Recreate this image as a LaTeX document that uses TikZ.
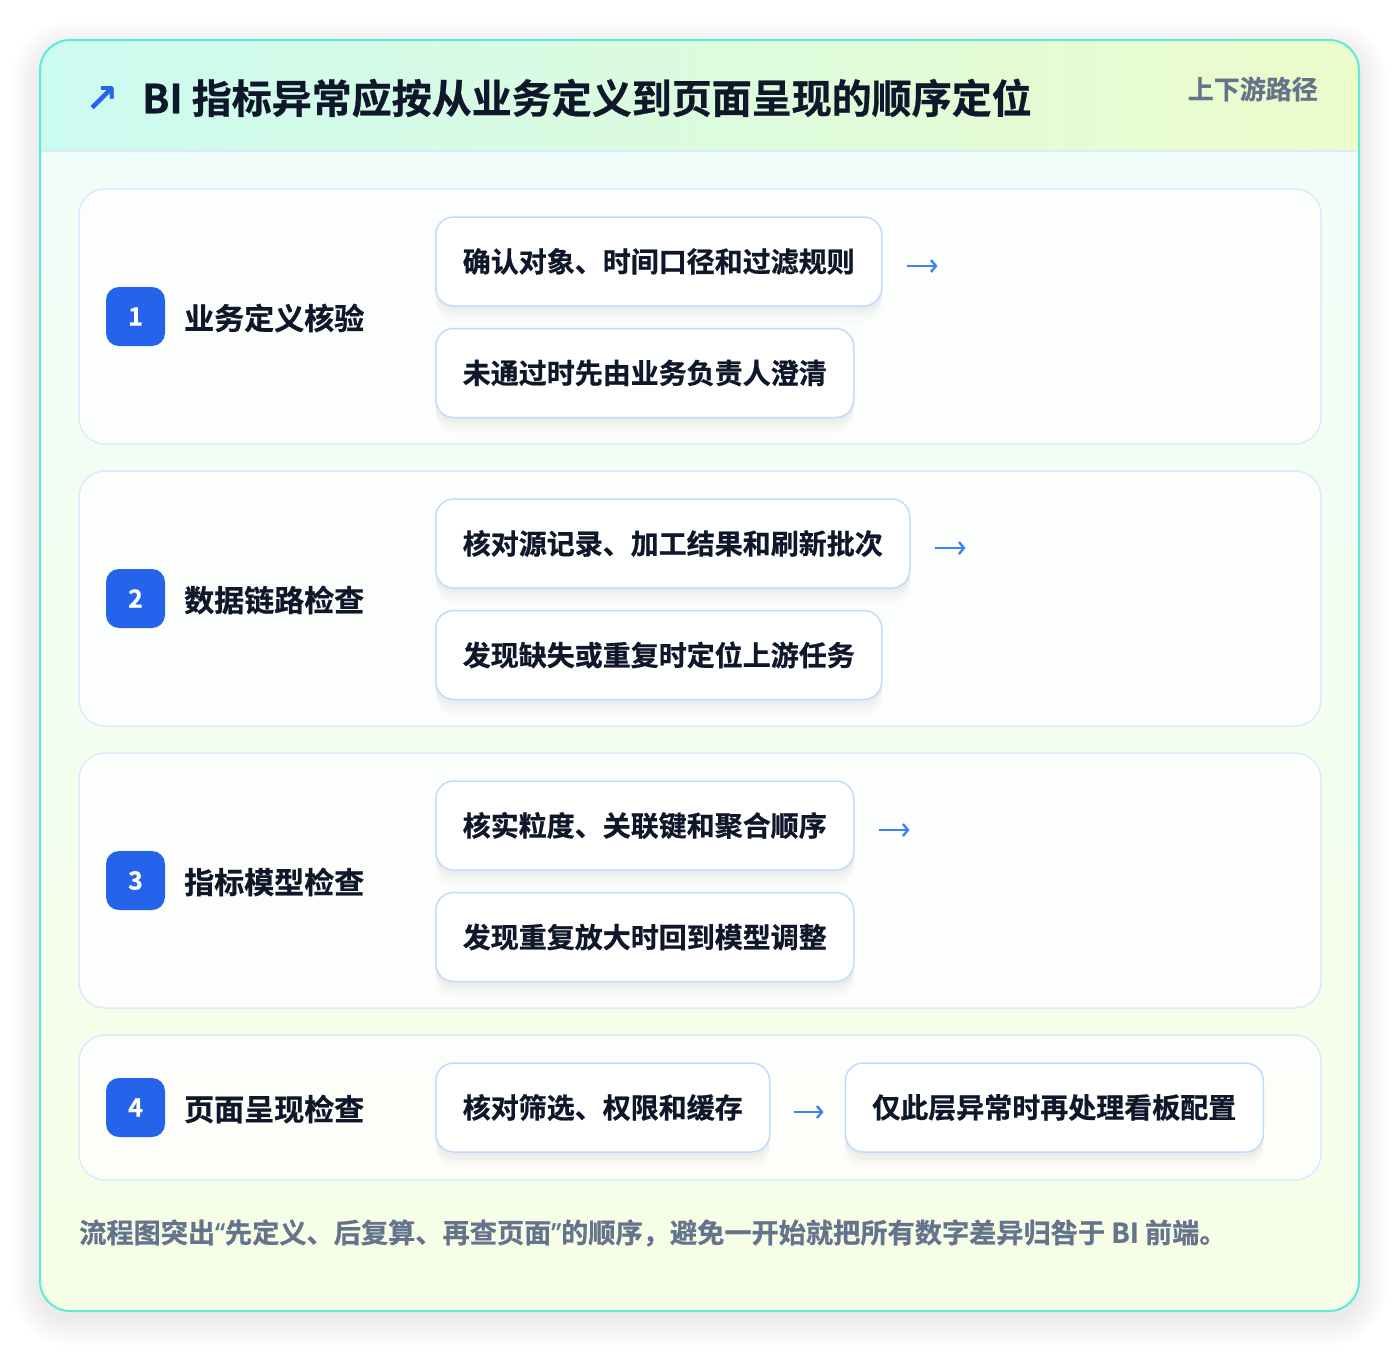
\documentclass[tikz,border=0pt]{standalone}
\usepackage{fontspec}
\setmainfont{Noto Sans CJK SC}[BoldFont={Noto Sans CJK SC Bold}, BoldFeatures={FakeBold=0.7}]
\newfontfamily\symfont{DejaVu Sans}
\newfontfamily\quotefont{Noto Sans}[FakeBold=0.7]
\usetikzlibrary{positioning, arrows.meta, shadows}

\definecolor{ink}{HTML}{0F172A}
\definecolor{muted}{HTML}{64748B}
\definecolor{brand}{HTML}{2563EB}
\definecolor{arrowblue}{HTML}{3B82F6}
\definecolor{boxedge}{HTML}{BFDBFE}
\definecolor{paneledge}{HTML}{DBEAFE}
\definecolor{frame}{HTML}{5EEAD4}
\definecolor{headL}{HTML}{CCFBF1}
\definecolor{headR}{HTML}{ECFCCB}
\definecolor{bodyT}{HTML}{F0FDFA}
\definecolor{bodyB}{HTML}{F7FEE7}

\newcommand{\fsz}[1]{\fontsize{#1}{#1}\selectfont}
\newcommand{\openq}{{\quotefont\bfseries “}}
\newcommand{\closeq}{{\quotefont\bfseries ”}}

\begin{document}
\begin{tikzpicture}[x=1pt, y=-1pt,
    panel/.style={draw=paneledge, line width=1.5pt, rounded corners=26pt,
                  fill=white, fill opacity=0.8, minimum width=1242pt, inner sep=0pt},
    badge/.style={fill=brand, rounded corners=13pt, minimum width=59pt,
                  minimum height=59pt, inner sep=0pt, text=white,
                  font=\fsz{25}\bfseries},
    stepname/.style={anchor=west, inner sep=0pt, text=ink, font=\fsz{30}\bfseries},
    softshade/.style={
        drop shadow={shadow xshift=0pt, shadow yshift=-4pt, opacity=.02, fill=black},
        drop shadow={shadow xshift=0pt, shadow yshift=-8pt, opacity=.02, fill=black},
        drop shadow={shadow xshift=0pt, shadow yshift=-12pt, opacity=.015, fill=black},
        drop shadow={shadow xshift=0pt, shadow yshift=-16pt, opacity=.01, fill=black}},
    check/.style={draw=boxedge, line width=1.5pt, fill=white, rounded corners=18pt,
                  minimum height=89pt, inner xsep=27pt, inner ysep=0pt,
                  text=ink, font=\fsz{28}\bfseries, softshade},
    flow/.style={draw=arrowblue, line width=2.4pt,
                 -{Straight Barb[length=5pt, width=12pt]}},
    ]
    \fill[white] (0,0) rectangle (1400,1352);
    \useasboundingbox (0,0) rectangle (1400,1352);

    % card halo
    \foreach \r in {2,5,...,29}
        \fill[black, opacity=0.008, rounded corners=30pt+\r pt]
            (40-\r,40-\r+10) rectangle (1359+\r,1311+\r+6);
    \shade[rounded corners=30pt, top color=bodyT, bottom color=bodyB]
        (40,40) rectangle (1359,1311);
    \begin{scope}
        \clip[rounded corners=30pt] (40,40) rectangle (1359,1311);
        \shade[left color=headL, right color=headR] (40,40) rectangle (1359,151);
    \end{scope}
    \draw[paneledge, line width=1.5pt] (40,151) -- (1359,151);
    \draw[frame, line width=2pt, rounded corners=30pt] (40,40) rectangle (1359,1311);

    \node[text=brand, font=\symfont\bfseries\fsz{40}, inner sep=0pt]
        (Icon) at (102,99) {↗};
    \node[anchor=west, inner sep=0pt, text=ink, font=\fsz{40}\bfseries]
        (Title) at (142,98) {BI 指标异常应按从业务定义到页面呈现的顺序定位};
    \node[anchor=east, inner sep=0pt, text=muted, font=\fsz{26}\bfseries]
        (Tag) at (1318,89) {上下游路径};

    % step 1
    \node[panel, minimum height=255pt] (Panel1) at (700,316.5) {};
    \node[badge] (Badge1) at (135.5,316.5) {1};
    \node[stepname] (Name1) at (184,318) {业务定义核验};
    \node[check, anchor=west] (Chk1a) at (435,261.5) {确认对象、时间口径和过滤规则};
    \node[check, below right=21pt and 0pt of Chk1a.south west] (Chk1b) {未通过时先由业务负责人澄清};
    \coordinate[right=55pt of Chk1a.east] (Out1);
    \path[flow, shorten <=24pt] ([yshift=-4.5pt]Chk1a.east) -- ([yshift=-4.5pt]Out1);

    % step 2
    \node[panel, minimum height=255pt] (Panel2) at (700,598.5) {};
    \node[badge] (Badge2) at (135.5,598.5) {2};
    \node[stepname] (Name2) at (184,600) {数据链路检查};
    \node[check, anchor=west] (Chk2a) at (435,543.5) {核对源记录、加工结果和刷新批次};
    \node[check, below right=21pt and 0pt of Chk2a.south west] (Chk2b) {发现缺失或重复时定位上游任务};
    \coordinate[right=55pt of Chk2a.east] (Out2);
    \path[flow, shorten <=24pt] ([yshift=-4.5pt]Chk2a.east) -- ([yshift=-4.5pt]Out2);

    % step 3
    \node[panel, minimum height=255pt] (Panel3) at (700,880.5) {};
    \node[badge] (Badge3) at (135.5,880.5) {3};
    \node[stepname] (Name3) at (184,882) {指标模型检查};
    \node[check, anchor=west] (Chk3a) at (435,825.5) {核实粒度、关联键和聚合顺序};
    \node[check, below right=21pt and 0pt of Chk3a.south west] (Chk3b) {发现重复放大时回到模型调整};
    \coordinate[right=55pt of Chk3a.east] (Out3);
    \path[flow, shorten <=24pt] ([yshift=-4.5pt]Chk3a.east) -- ([yshift=-4.5pt]Out3);

    % step 4
    \node[panel, minimum height=145pt] (Panel4) at (700,1107.5) {};
    \node[badge] (Badge4) at (135.5,1107.5) {4};
    \node[stepname] (Name4) at (184,1109) {页面呈现检查};
    \node[check, anchor=west] (Chk4a) at (435,1107.5) {核对筛选、权限和缓存};
    \node[check, right=74pt of Chk4a] (Chk4b) {仅此层异常时再处理看板配置};
    \path[flow, shorten <=23pt, shorten >=21pt]
        ([yshift=-4.5pt]Chk4a.east) -- ([yshift=-4.5pt]Chk4b.west);

    \node[anchor=west, inner sep=0pt, text=muted, font=\fsz{27.2}\bfseries]
        (Note) at (79,1233) {流程图突出\openq 先定义、后复算、再查页面\closeq 的顺序，避免一开始就把所有数字差异归咎于 BI 前端。};
\end{tikzpicture}
\end{document}
